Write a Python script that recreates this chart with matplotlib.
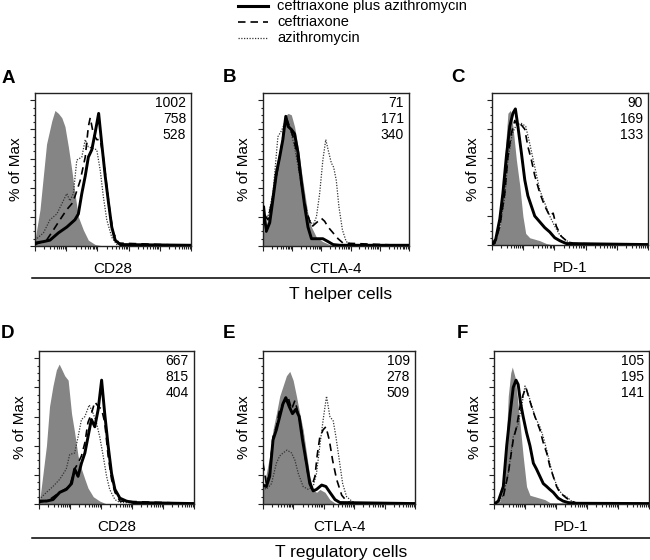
import numpy as np
import matplotlib
matplotlib.use("Agg")
import matplotlib.pyplot as plt
from matplotlib.lines import Line2D

plt.rcParams['font.family'] = ['Liberation Sans', 'DejaVu Sans']

# ---------------- data (x: log10 fluorescence, y: % of Max) ----------------
series_names = ["ceftriaxone plus azithromycin", "ceftriaxone", "azithromycin"]
panel_letters = ["A", "B", "C", "D", "E", "F"]
markers = ["CD28", "CTLA-4", "PD-1", "CD28", "CTLA-4", "PD-1"]
row_titles = ["T helper cells", "T regulatory cells"]

A_mfi = ["1002", "758", "528"]
B_mfi = ["71", "171", "340"]
C_mfi = ["90", "169", "133"]
D_mfi = ["667", "815", "404"]
E_mfi = ["109", "278", "509"]
F_mfi = ["105", "195", "141"]

# Panel A
A_iso_x = [0, 0.16, 0.37, 0.54, 0.64, 0.75, 0.86, 0.96, 1.07, 1.18, 1.28, 1.39, 1.55, 1.71, 1.93, 2.2, 5]
A_iso_y = [4, 25, 70, 86, 93, 91, 88, 82, 68, 52, 36, 20, 11, 4, 1, 0, 0]
A_combo_x = [0, 0.27, 0.48, 0.75, 1.02, 1.28, 1.39, 1.5, 1.61, 1.71, 1.82, 1.93, 2.04, 2.14, 2.25, 2.36, 2.46, 2.57, 2.73, 5]
A_combo_y = [2, 3, 4, 9, 13, 18, 22, 36, 48, 61, 66, 78, 91, 70, 48, 29, 13, 4, 1, 0.5]
A_cef_x = [0, 0.37, 0.59, 0.80, 1.02, 1.18, 1.28, 1.45, 1.61, 1.71, 1.77, 1.87, 1.98, 2.09, 2.19, 2.30, 2.41, 2.51, 2.68, 5]
A_cef_y = [1, 4, 11, 18, 25, 29, 34, 45, 61, 82, 88, 77, 73, 73, 61, 41, 22, 9, 2, 0.3]
A_azi_x = [0, 0.27, 0.48, 0.70, 0.86, 1.02, 1.12, 1.23, 1.34, 1.50, 1.61, 1.71, 1.87, 1.98, 2.09, 2.19, 2.30, 2.46, 2.62, 5]
A_azi_y = [4, 9, 18, 22, 29, 36, 31, 36, 59, 61, 73, 68, 67, 66, 52, 34, 18, 6, 1, 0.3]

# Panel B
B_iso_x = [0, 0.06, 0.17, 0.29, 0.40, 0.51, 0.63, 0.74, 0.86, 0.97, 1.08, 1.20, 1.31, 1.43, 1.54, 1.66, 1.83, 2.05, 2.28, 2.51, 5]
B_iso_y = [12, 9, 20, 36, 52, 61, 73, 89, 91, 90, 82, 68, 52, 36, 22, 13, 6, 3, 1, 0, 0]
B_combo_x = [0, 0.02, 0.11, 0.23, 0.34, 0.46, 0.57, 0.68, 0.78, 0.86, 0.97, 1.08, 1.20, 1.31, 1.43, 1.54, 1.66, 1.83, 2.05, 2.23, 2.40, 2.63, 5]
B_combo_y = [20, 27, 10, 16, 32, 50, 61, 73, 89, 82, 80, 77, 64, 45, 27, 13, 5, 5, 5, 3, 1, 0.5, 0.5]
B_cef_x = [0, 0.02, 0.17, 0.34, 0.51, 0.63, 0.78, 0.91, 1.03, 1.16, 1.31, 1.48, 1.66, 1.83, 2.00, 2.11, 2.23, 2.40, 2.57, 2.74, 5]
B_cef_y = [15, 22, 18, 34, 54, 68, 89, 82, 75, 64, 43, 25, 13, 16, 19, 17, 13, 9, 5, 2, 0.3]
B_azi_x = [0, 0.02, 0.17, 0.34, 0.51, 0.63, 0.78, 0.91, 1.08, 1.26, 1.43, 1.60, 1.71, 1.83, 1.94, 2.05, 2.15, 2.23, 2.34, 2.42, 2.51, 2.60, 2.72, 2.85, 3.03, 5]
B_azi_y = [15, 22, 20, 36, 75, 79, 86, 82, 68, 48, 27, 18, 14, 20, 36, 59, 73, 66, 57, 54, 45, 27, 11, 3, 1, 0.3]

# Panel C
C_iso_x = [0, 0.09, 0.25, 0.35, 0.44, 0.51, 0.59, 0.67, 0.78, 0.89, 0.99, 1.08, 1.21, 1.37, 1.53, 1.74, 1.96, 5]
C_iso_y = [0, 1, 13, 36, 70, 91, 93, 82, 59, 41, 20, 8, 5, 4, 3, 1, 0, 0]
C_combo_x = [0, 0.12, 0.25, 0.35, 0.46, 0.57, 0.67, 0.75, 0.83, 0.94, 1.05, 1.15, 1.26, 1.37, 1.53, 1.69, 1.85, 2.01, 2.17, 2.38, 5]
C_combo_y = [0, 4, 18, 36, 61, 82, 91, 94, 82, 64, 45, 34, 27, 20, 16, 12, 9, 5, 3, 1, 0.3]
C_cef_x = [0, 0.09, 0.25, 0.41, 0.51, 0.62, 0.73, 0.83, 0.94, 1.05, 1.15, 1.26, 1.37, 1.53, 1.69, 1.85, 1.96, 2.06, 2.22, 2.38, 2.60, 5]
C_cef_y = [0, 1, 13, 36, 61, 77, 86, 82, 83, 80, 68, 59, 48, 36, 27, 20, 22, 13, 6, 3, 1, 0.3]
C_azi_x = [0, 0.09, 0.25, 0.41, 0.51, 0.65, 0.78, 0.94, 1.08, 1.21, 1.37, 1.53, 1.69, 1.85, 2.01, 2.17, 2.38, 2.60, 5]
C_azi_y = [0, 1, 12, 33, 59, 77, 83, 84, 82, 70, 54, 38, 29, 20, 13, 7, 3, 1, 0.3]

# Panel D
D_iso_x = [0, 0.02, 0.13, 0.24, 0.34, 0.45, 0.56, 0.65, 0.72, 0.83, 0.94, 1.05, 1.15, 1.26, 1.37, 1.48, 1.58, 1.75, 1.96, 2.18, 5]
D_iso_y = [0, 2, 21, 40, 67, 81, 92, 96, 93, 88, 85, 62, 49, 33, 24, 17, 11, 5, 2, 0, 0]
D_combo_x = [0, 0.24, 0.45, 0.67, 0.88, 1.05, 1.15, 1.26, 1.37, 1.48, 1.58, 1.69, 1.80, 1.91, 2.02, 2.12, 2.23, 2.34, 2.45, 2.61, 2.82, 3.04, 5]
D_combo_y = [2, 2, 3, 8, 10, 14, 24, 19, 28, 35, 46, 58, 53, 65, 85, 62, 40, 21, 10, 4, 2, 1, 0.3]
D_cef_x = [0, 0.34, 0.67, 0.99, 1.15, 1.26, 1.37, 1.48, 1.58, 1.69, 1.80, 1.91, 2.02, 2.12, 2.23, 2.34, 2.45, 2.61, 5]
D_cef_y = [1, 3, 8, 12, 24, 28, 33, 42, 56, 62, 70, 67, 65, 56, 33, 17, 8, 2, 0.3]
D_azi_x = [0, 0.24, 0.45, 0.67, 0.88, 0.99, 1.15, 1.26, 1.37, 1.48, 1.62, 1.75, 1.85, 1.96, 2.07, 2.18, 2.28, 2.45, 2.61, 5]
D_azi_y = [3, 8, 12, 17, 24, 34, 35, 46, 58, 60, 68, 62, 56, 46, 33, 19, 10, 3, 1, 0.3]

# Panel E
E_iso_x = [0, 0.11, 0.22, 0.33, 0.44, 0.55, 0.66, 0.77, 0.88, 0.99, 1.10, 1.21, 1.32, 1.43, 1.54, 1.65, 1.76, 1.87, 2.04, 2.20, 2.42, 5]
E_iso_y = [10, 21, 33, 51, 62, 74, 81, 88, 91, 85, 74, 62, 51, 35, 19, 10, 8, 10, 8, 3, 0, 0]
E_combo_x = [0, 0.11, 0.22, 0.33, 0.44, 0.55, 0.66, 0.75, 0.86, 0.97, 1.08, 1.19, 1.30, 1.43, 1.54, 1.65, 1.76, 1.93, 2.07, 2.20, 2.37, 2.53, 5]
E_combo_y = [13, 12, 19, 44, 51, 60, 69, 73, 67, 62, 65, 60, 44, 28, 14, 9, 10, 13, 12, 8, 3, 1, 0.3]
E_cef_x = [0, 0.11, 0.22, 0.33, 0.44, 0.55, 0.66, 0.83, 0.94, 1.05, 1.16, 1.27, 1.38, 1.49, 1.60, 1.71, 1.78, 1.87, 1.98, 2.07, 2.18, 2.29, 2.42, 2.59, 2.75, 2.92, 5]
E_cef_y = [28, 14, 21, 46, 53, 65, 69, 73, 65, 71, 62, 51, 33, 19, 12, 19, 33, 46, 51, 53, 44, 30, 17, 6, 2, 0.5, 0.3]
E_azi_x = [0, 0.11, 0.28, 0.44, 0.55, 0.66, 0.79, 0.94, 1.05, 1.16, 1.32, 1.49, 1.65, 1.76, 1.87, 1.98, 2.09, 2.20, 2.31, 2.40, 2.51, 2.62, 2.75, 2.92, 3.08, 5]
E_azi_y = [12, 10, 14, 28, 33, 35, 37, 35, 30, 21, 12, 10, 12, 21, 40, 58, 74, 60, 57, 46, 30, 14, 5, 2, 0.5, 0.3]

# Panel F
F_iso_x = [0, 0.19, 0.30, 0.39, 0.46, 0.54, 0.59, 0.68, 0.75, 0.84, 0.94, 1.05, 1.16, 1.32, 1.48, 1.64, 1.80, 5]
F_iso_y = [0, 2, 12, 40, 74, 90, 94, 87, 74, 55, 33, 12, 6, 5, 4, 3, 1, 0]
F_combo_x = [0, 0.14, 0.30, 0.41, 0.52, 0.62, 0.71, 0.78, 0.86, 0.94, 1.05, 1.16, 1.27, 1.37, 1.48, 1.59, 1.70, 1.80, 1.91, 2.07, 2.23, 2.39, 2.66, 5]
F_combo_y = [0, 2, 12, 40, 62, 80, 85, 82, 69, 60, 49, 40, 28, 24, 19, 14, 12, 10, 8, 4, 2, 1, 0.5, 0.3]
F_cef_x = [0, 0.09, 0.30, 0.46, 0.62, 0.73, 0.84, 0.94, 1.03, 1.11, 1.21, 1.32, 1.48, 1.59, 1.70, 1.80, 1.91, 2.02, 2.12, 2.23, 2.34, 2.50, 2.66, 5]
F_cef_y = [0, 1, 5, 21, 44, 53, 67, 75, 80, 74, 67, 60, 51, 42, 35, 26, 19, 12, 8, 6, 4, 2, 0.5, 0.3]
F_azi_x = [0, 0.09, 0.30, 0.46, 0.62, 0.78, 0.89, 1.00, 1.11, 1.21, 1.32, 1.48, 1.59, 1.70, 1.80, 1.91, 2.04, 2.18, 2.34, 2.50, 2.66, 5]
F_azi_y = [0, 1, 6, 21, 46, 55, 67, 81, 75, 68, 60, 53, 46, 37, 28, 19, 12, 7, 5, 2, 0.5, 0.3]

panels = [
    (A_iso_x, A_iso_y, A_combo_x, A_combo_y, A_cef_x, A_cef_y, A_azi_x, A_azi_y, A_mfi),
    (B_iso_x, B_iso_y, B_combo_x, B_combo_y, B_cef_x, B_cef_y, B_azi_x, B_azi_y, B_mfi),
    (C_iso_x, C_iso_y, C_combo_x, C_combo_y, C_cef_x, C_cef_y, C_azi_x, C_azi_y, C_mfi),
    (D_iso_x, D_iso_y, D_combo_x, D_combo_y, D_cef_x, D_cef_y, D_azi_x, D_azi_y, D_mfi),
    (E_iso_x, E_iso_y, E_combo_x, E_combo_y, E_cef_x, E_cef_y, E_azi_x, E_azi_y, E_mfi),
    (F_iso_x, F_iso_y, F_combo_x, F_combo_y, F_cef_x, F_cef_y, F_azi_x, F_azi_y, F_mfi),
]

# ---------------- layout (pixel boxes: left, top, right, bottom) ----------------
W, H = 650, 560
boxes = [(35, 93, 191, 246), (263, 93, 409, 246), (492, 93, 648, 245),
         (39, 351, 194, 504), (263, 351, 415, 504), (494, 351, 649, 504)]
letter_pos = [(8, 79), (229, 77), (458, 78), (7, 333), (229, 333), (462, 333)]

fig = plt.figure(figsize=(W / 100, H / 100), dpi=100)

def fx(px):
    return px / W

def fy(py):
    return 1 - py / H

GRAY = '#858585'
DASH = (0, (4.5, 3))
DOT = (0, (1, 1.2))

minor_x = [d + np.log10(k) for d in range(5) for k in range(2, 10)]

for i, (box, p) in enumerate(zip(boxes, panels)):
    l, t, r, b = box
    ax = fig.add_axes([fx(l), fy(b), fx(r - l), (b - t) / H])
    ix, iy, cx, cy, ex, ey, zx, zy, mfi = p
    ax.fill_between(ix, iy, 0, color=GRAY, lw=0, zorder=1)
    ax.plot(zx, zy, color='#333333', lw=0.9, ls=DOT, zorder=2)
    ax.plot(ex, ey, color='black', lw=1.2, ls=DASH, zorder=3)
    ax.plot(cx, cy, color='black', lw=2.1, zorder=4)
    ax.set_xlim(0, 5)
    ax.set_ylim(0, 105)
    ax.set_xticks(range(6))
    ax.set_xticks(minor_x, minor=True)
    ax.set_yticks(range(0, 101, 20))
    ax.set_yticks(range(0, 101, 5), minor=True)
    ax.tick_params(which='both', direction='out', labelbottom=False, labelleft=False,
                   width=0.8, color='#222222')
    ax.tick_params(which='major', length=3.5)
    ax.tick_params(which='minor', length=1.8)
    for s in ax.spines.values():
        s.set_linewidth(1.0)
        s.set_color('#222222')
    for k, txt in enumerate(mfi):
        ax.text(1 - 5 / (r - l), 1 - (10 + 16 * k) / (b - t), txt, transform=ax.transAxes,
                ha='right', va='center', fontsize=10)
    ax.set_ylabel('% of Max', fontsize=11, labelpad=5)
    ax.set_xlabel(markers[i], fontsize=11, labelpad=8)
    lx, ly = letter_pos[i]
    fig.text(fx(lx), fy(ly), panel_letters[i], fontsize=13.5, fontweight='bold',
             ha='center', va='center')

# separators and row titles
for ysep, ytitle, title in [(278, 295, row_titles[0]), (538, 552, row_titles[1])]:
    fig.add_artist(Line2D([fx(32), fx(650)], [fy(ysep), fy(ysep)], color='black', lw=1.1))
    fig.text(fx(341), fy(ytitle), title, fontsize=12.5, ha='center', va='center')

# legend
styles = [dict(color='black', lw=2.2), dict(color='black', lw=1.2, ls=DASH),
          dict(color='#333333', lw=0.9, ls=DOT)]
for k, (name, st) in enumerate(zip(series_names, styles)):
    yy = 6 + 16 * k
    fig.add_artist(Line2D([fx(238), fx(268)], [fy(yy), fy(yy)], **st))
    fig.text(fx(277), fy(yy), name, fontsize=10.5, ha='left', va='center')

fig.savefig('out.png', dpi=100)
